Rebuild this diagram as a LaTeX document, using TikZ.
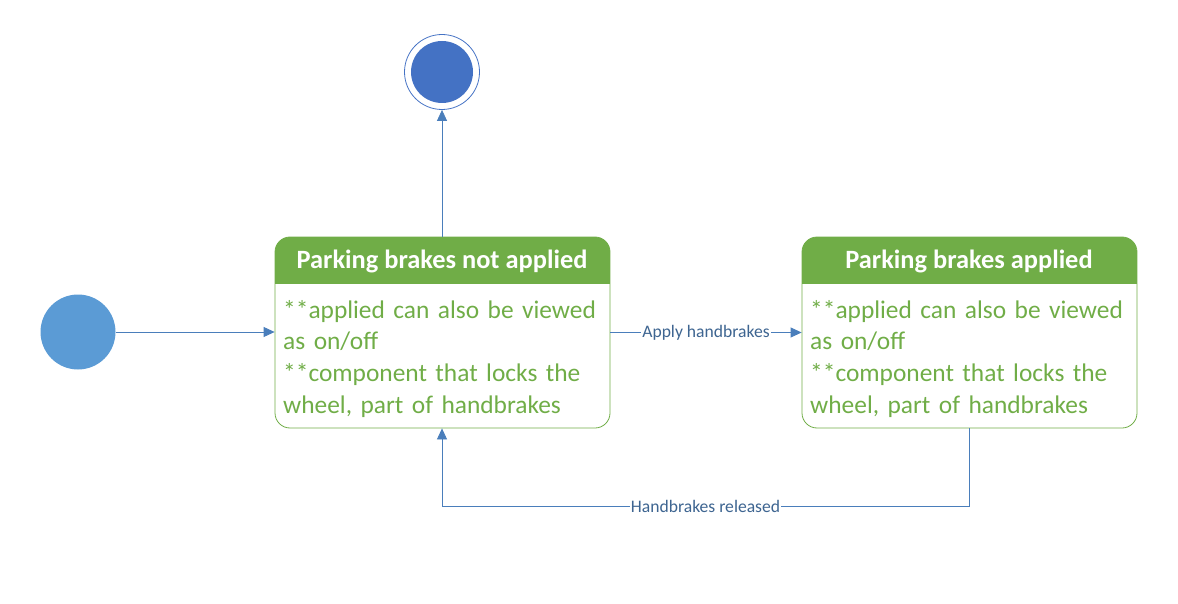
\documentclass[tikz,border=0pt]{standalone}
\usepackage{fontspec}
\setmainfont{Carlito}
\usetikzlibrary{arrows.meta}
\definecolor{lgreen}{HTML}{70AD47}
\definecolor{sblue}{HTML}{5B9BD5}
\definecolor{eblue}{HTML}{4472C4}
\definecolor{lineblue}{HTML}{4A7EBB}
\definecolor{lblue}{HTML}{3E6591}
\tikzset{
  statebox/.style={draw=lgreen, line width=0.8pt, rounded corners=15pt, minimum width=335pt, minimum height=191pt, inner sep=0pt},
  hdr/.style={text=white, font=\fontsize{26.4}{30}\selectfont\bfseries},
  body/.style={text=lgreen, font=\fontsize{25.4}{31.7}\selectfont, align=left, anchor=north west, inner sep=0pt, text width=330pt},
  conn/.style={draw=lineblue, line width=0.8pt, -{Triangle[length=11pt,width=10pt]}},
  lbl/.style={fill=white, text=lblue, font=\fontsize{17.6}{20}\selectfont, inner sep=1pt},
}
\begin{document}
\begin{tikzpicture}[x=1pt,y=-1pt]
\useasboundingbox (0,0) rectangle (1178,604);
% start
\node[circle, fill=sblue, minimum size=75pt, inner sep=0pt] (start) at (78,332) {};
% end
\node[circle, draw=eblue, line width=0.8pt, minimum size=75pt, inner sep=0pt] (end) at (442,72) {};
\node[circle, fill=eblue, minimum size=62pt, inner sep=0pt] (endin) at (442,72) {};
% state 1
\begin{scope}
\clip[rounded corners=15pt] (275,237) rectangle (610,428);
\fill[lgreen] (275,237) rectangle (610,284);
\end{scope}
\node[statebox] (s1) at (442.5,332.5) {};
\node[hdr] (h1) at (442,261) {Parking brakes not applied};
\node[body] (b1) at (283,300) {**applied can also be viewed\\{}as on/off\\{}**component that locks the\\{}wheel, part of handbrakes};
% state 2
\begin{scope}
\clip[rounded corners=15pt] (802,237) rectangle (1137,428);
\fill[lgreen] (802,237) rectangle (1137,284);
\end{scope}
\node[statebox] (s2) at (969.5,332.5) {};
\node[hdr] (h2) at (969,261) {Parking brakes applied};
\node[body] (b2) at (810,300) {**applied can also be viewed\\{}as on/off\\{}**component that locks the\\{}wheel, part of handbrakes};
% connectors
\draw[conn] (start.east) -- (s1.west |- start.east);
\draw[conn] (s1.north -| end.south) -- (end.south);
\draw[conn] (s1.east) -- node[lbl] (l1) {Apply handbrakes} (s2.west);
\coordinate (c1) at (969,506);
\coordinate (c2) at (442,506);
\draw[conn] (s2.south -| c1) -- (c1) -- node[lbl, pos=0.5] (l2) {Handbrakes released} (c2) -- (s1.south -| c2);
\end{tikzpicture}
\end{document}
